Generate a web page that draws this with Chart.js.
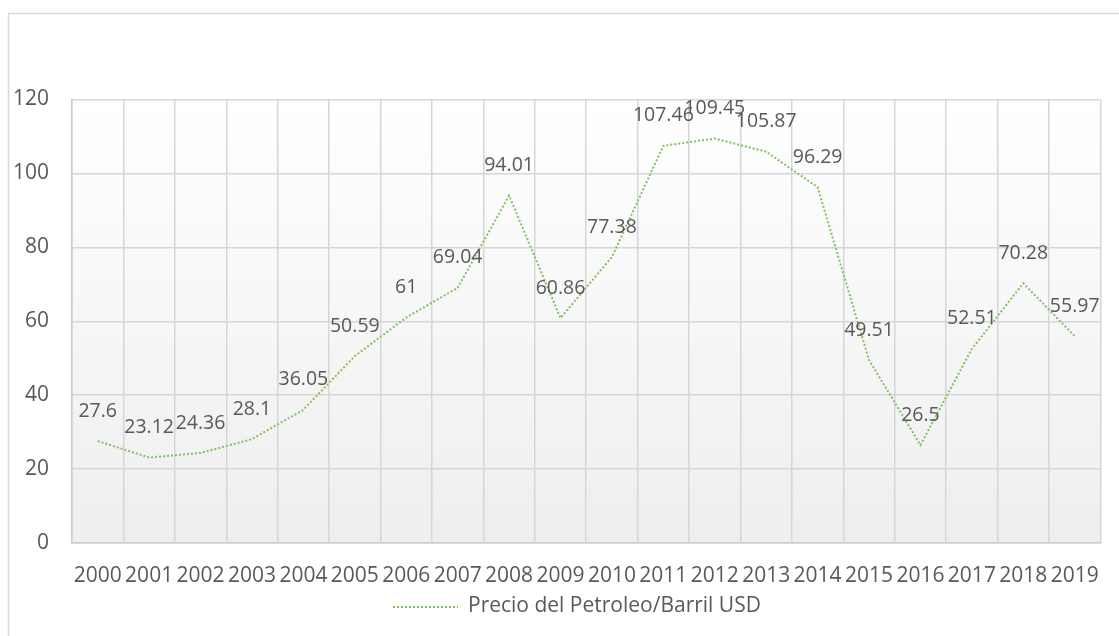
<!DOCTYPE html>
<html>
<head>
<meta charset="utf-8">
<script src="https://cdn.jsdelivr.net/npm/chart.js@4/dist/chart.umd.min.js"></script>
<style>
  html, body { margin: 0; padding: 0; background: #ffffff; }
  #wrap { width: 1119px; height: 636px; position: relative; }
</style>
</head>
<body>
<div id="wrap"><canvas id="c" width="1119" height="636"></canvas></div>
<script>
// Annual oil price per barrel (USD)
const years = ['2000','2001','2002','2003','2004','2005','2006','2007','2008','2009',
               '2010','2011','2012','2013','2014','2015','2016','2017','2018','2019'];
const prices = [27.6, 23.12, 24.36, 28.1, 36.05, 50.59, 61, 69.04, 94.01, 60.86,
                77.38, 107.46, 109.45, 105.87, 96.29, 49.51, 26.5, 52.51, 70.28, 55.97];
const seriesName = 'Precio del Petroleo/Barril USD';
const yTicks = [0, 20, 40, 60, 80, 100, 120];

const FONT = "'Open Sans', 'Liberation Sans', sans-serif";
const TEXT = '#595959';
const LINE = '#84c062';
const GRID = '#d6d6d6';

// outer frame + plot-area gradient
const framePlugin = {
  id: 'frame',
  beforeDraw(chart) {
    const { ctx, chartArea: a } = chart;
    ctx.save();
    ctx.fillStyle = '#ffffff';
    ctx.fillRect(0, 0, chart.width, chart.height);
    ctx.strokeStyle = '#d9d9d9';
    ctx.lineWidth = 1.5;
    ctx.strokeRect(8.5, 13.5, 2000, 2000);
    const g = ctx.createLinearGradient(0, a.top, 0, a.bottom);
    g.addColorStop(0, '#ffffff');
    g.addColorStop(1, '#eeeeee');
    ctx.fillStyle = g;
    ctx.fillRect(a.left, a.top, a.right - a.left, a.bottom - a.top);
    ctx.restore();
  }
};

// value labels above each point
const valueLabels = {
  id: 'valueLabels',
  afterDatasetsDraw(chart) {
    const { ctx } = chart;
    const meta = chart.getDatasetMeta(0);
    ctx.save();
    ctx.font = '19.5px ' + FONT;
    ctx.fillStyle = TEXT;
    ctx.textAlign = 'center';
    ctx.textBaseline = 'middle';
    meta.data.forEach((pt, i) => {
      ctx.fillText(String(prices[i]), pt.x, pt.y - 30);
    });
    ctx.restore();
  }
};

// legend entry below the axis
const bottomLegend = {
  id: 'bottomLegend',
  afterDraw(chart) {
    const { ctx } = chart;
    ctx.save();
    ctx.strokeStyle = LINE;
    ctx.lineWidth = 2;
    ctx.setLineDash([2, 2]);
    ctx.beginPath();
    ctx.moveTo(393, 607);
    ctx.lineTo(458, 607);
    ctx.stroke();
    ctx.setLineDash([]);
    ctx.font = '21px ' + FONT;
    ctx.fillStyle = TEXT;
    ctx.textAlign = 'left';
    ctx.textBaseline = 'middle';
    ctx.fillText(seriesName, 468, 606);
    ctx.restore();
  }
};

new Chart(document.getElementById('c'), {
  type: 'line',
  data: {
    labels: years,
    datasets: [{
      label: seriesName,
      data: prices,
      borderColor: LINE,
      borderWidth: 2,
      borderDash: [2, 2],
      pointRadius: 0,
      tension: 0,
      fill: false
    }]
  },
  options: {
    responsive: false,
    animation: false,
    layout: { padding: { top: 99.5, left: 0, right: 11, bottom: 48 } },
    plugins: {
      legend: { display: false },
      tooltip: { enabled: false }
    },
    scales: {
      x: {
        offset: true,
        grid: { offset: true, color: GRID, lineWidth: 1.5, drawTicks: false },
        border: { color: '#cccccc', width: 1.5 },
        ticks: { color: TEXT, font: { family: FONT, size: 21 }, padding: 20, maxRotation: 0, autoSkip: false },
        afterFit(s) { s.height = 45; }
      },
      y: {
        min: 0,
        max: 120,
        afterBuildTicks(s) { s.ticks = yTicks.map(v => ({ value: v })); },
        grid: { color: GRID, lineWidth: 1.5, drawTicks: false },
        border: { color: '#cccccc', width: 1.5 },
        ticks: { color: TEXT, font: { family: FONT, size: 21 }, padding: 23 },
        afterFit(s) { s.width = 72; }
      }
    }
  },
  plugins: [framePlugin, valueLabels, bottomLegend]
});
</script>
</body>
</html>
